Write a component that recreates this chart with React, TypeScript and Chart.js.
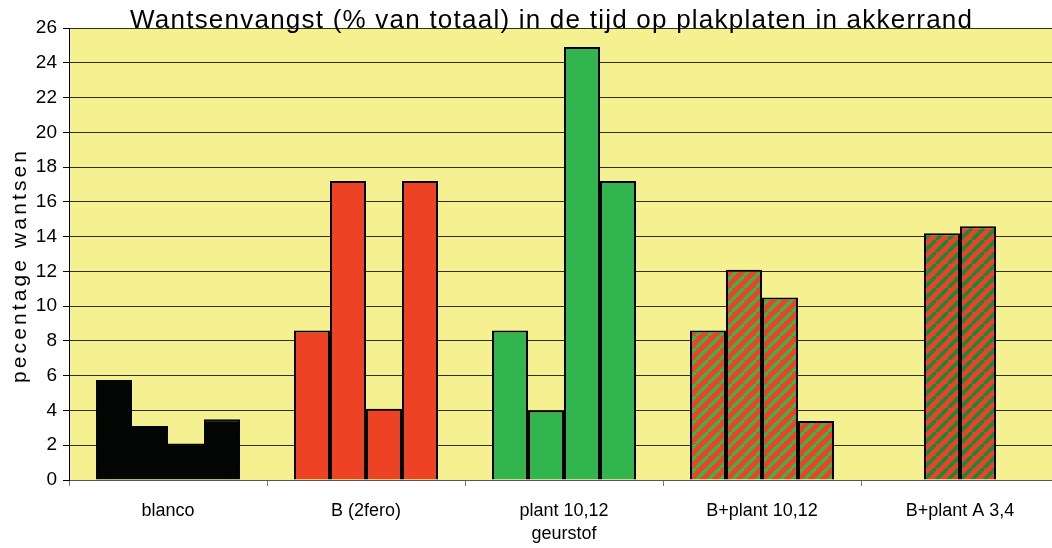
import React, { useEffect, useRef } from "react";
import { Chart, registerables } from "chart.js";

Chart.register(...registerables);

const categories: (string | string[])[] = [
  "blanco",
  "B (2fero)",
  ["plant 10,12", "geurstof"],
  "B+plant 10,12",
  "B+plant A 3,4",
];
const period1: (number | null)[] = [5.75, 8.6, 8.6, 8.6, null];
const period2: (number | null)[] = [3.1, 17.2, 4.0, 12.1, 14.2];
const period3: (number | null)[] = [2.1, 4.1, 24.9, 10.5, 14.6];
const period4: (number | null)[] = [3.5, 17.2, 17.2, 3.4, null];

const titleText = "Wantsenvangst (% van totaal) in de tijd op plakplaten in akkerrand";
const yTitleText = "pecentage wantsen";

const FONT = '"Liberation Sans", Arial, sans-serif';

function makeHatch(stripe: string): CanvasPattern | string {
  const s = 12;
  const c = document.createElement("canvas");
  c.width = s;
  c.height = s;
  const g = c.getContext("2d");
  if (!g) return "#EE4224";
  g.fillStyle = "#EE4224";
  g.fillRect(0, 0, s, s);
  g.strokeStyle = stripe;
  g.lineWidth = 3.6;
  for (let k = -1; k <= 1; k++) {
    g.beginPath();
    g.moveTo(k * s, s);
    g.lineTo(k * s + s, 0);
    g.stroke();
  }
  const p = g.createPattern(c, "repeat");
  return p || "#EE4224";
}

export default function App() {
  const ref = useRef<HTMLCanvasElement>(null);

  useEffect(() => {
    document.body.style.margin = "0";
    document.body.style.overflow = "hidden";
    const canvas = ref.current;
    if (!canvas) return;
    const hatchLight = makeHatch("#3DB34C");
    const hatchDark = makeHatch("#0C8E3E");
    const colors = ["#040606", "#EE4224", "#32B44E", hatchLight, hatchDark];
    const borders = ["#040606", "#000", "#000", "#000", "#000"];

    const bgPlugin = {
      id: "bg",
      beforeDraw(chart: any) {
        const { ctx, chartArea } = chart;
        ctx.save();
        ctx.fillStyle = "#F5F190";
        ctx.fillRect(chartArea.left, chartArea.top, chartArea.right - chartArea.left, chartArea.bottom - chartArea.top);
        ctx.restore();
      },
    };

    const textPlugin = {
      id: "texts",
      afterDraw(chart: any) {
        const ctx = chart.ctx as any;
        ctx.save();
        ctx.fillStyle = "#000";
        ctx.textAlign = "left";
        ctx.textBaseline = "alphabetic";
        ctx.font = `26px ${FONT}`;
        ctx.letterSpacing = "0px";
        const w0 = ctx.measureText(titleText).width;
        const targetW = 842;
        const ls = (targetW - w0) / (titleText.length - 1);
        ctx.letterSpacing = `${ls}px`;
        ctx.fillText(titleText, 130, 28);
        ctx.font = `21px ${FONT}`;
        ctx.letterSpacing = "0px";
        const w1 = ctx.measureText(yTitleText).width;
        const target1 = 232;
        const ls1 = (target1 - w1) / (yTitleText.length - 1);
        ctx.letterSpacing = `${ls1}px`;
        ctx.translate(26, 267 + target1 / 2);
        ctx.rotate(-Math.PI / 2);
        ctx.fillText(yTitleText, 0, 0);
        ctx.restore();
      },
    };

    const mk = (label: string, data: (number | null)[]) => ({
      label,
      data,
      backgroundColor: colors,
      borderColor: borders,
      borderWidth: 2,
      inflateAmount: 0,
      categoryPercentage: 144 / 198,
      barPercentage: 1,
    });

    const chart = new Chart(canvas, {
      type: "bar",
      data: {
        labels: categories as any,
        datasets: [mk("1", period1), mk("2", period2), mk("3", period3), mk("4", period4)] as any,
      },
      options: {
        responsive: false,
        maintainAspectRatio: false,
        animation: false,
        layout: { padding: { top: 28, right: 16, left: 0, bottom: 0 } },
        plugins: {
          legend: { display: false },
          tooltip: { enabled: false },
          title: { display: false },
        },
        scales: {
          x: {
            grid: { offset: true, drawOnChartArea: false, tickLength: 6, tickColor: "#777" },
            border: { color: "#555", width: 1 },
            ticks: {
              font: { family: FONT, size: 18, lineHeight: 1.25 },
              color: "#000",
              padding: 14,
              maxRotation: 0,
              autoSkip: false,
            },
            afterFit: (s: any) => {
              s.height = 68;
            },
          },
          y: {
            min: 0,
            max: 26,
            ticks: {
              stepSize: 2,
              font: { family: FONT, size: 19 },
              color: "#000",
              padding: 6,
            },
            grid: { color: "rgba(0,0,0,0.8)", tickLength: 6, tickColor: "#000", lineWidth: 1 },
            border: { color: "#000", width: 1 },
            afterFit: (s: any) => {
              s.width = 69;
            },
          },
        },
      } as any,
      plugins: [bgPlugin, textPlugin],
    });
    return () => chart.destroy();
  }, []);

  return (
    <div style={{ position: "fixed", left: 0, top: 0, width: 1052, height: 548, overflow: "hidden", background: "#fff" }}>
      <canvas ref={ref} width={1075} height={548} style={{ display: "block" }} />
    </div>
  );
}
